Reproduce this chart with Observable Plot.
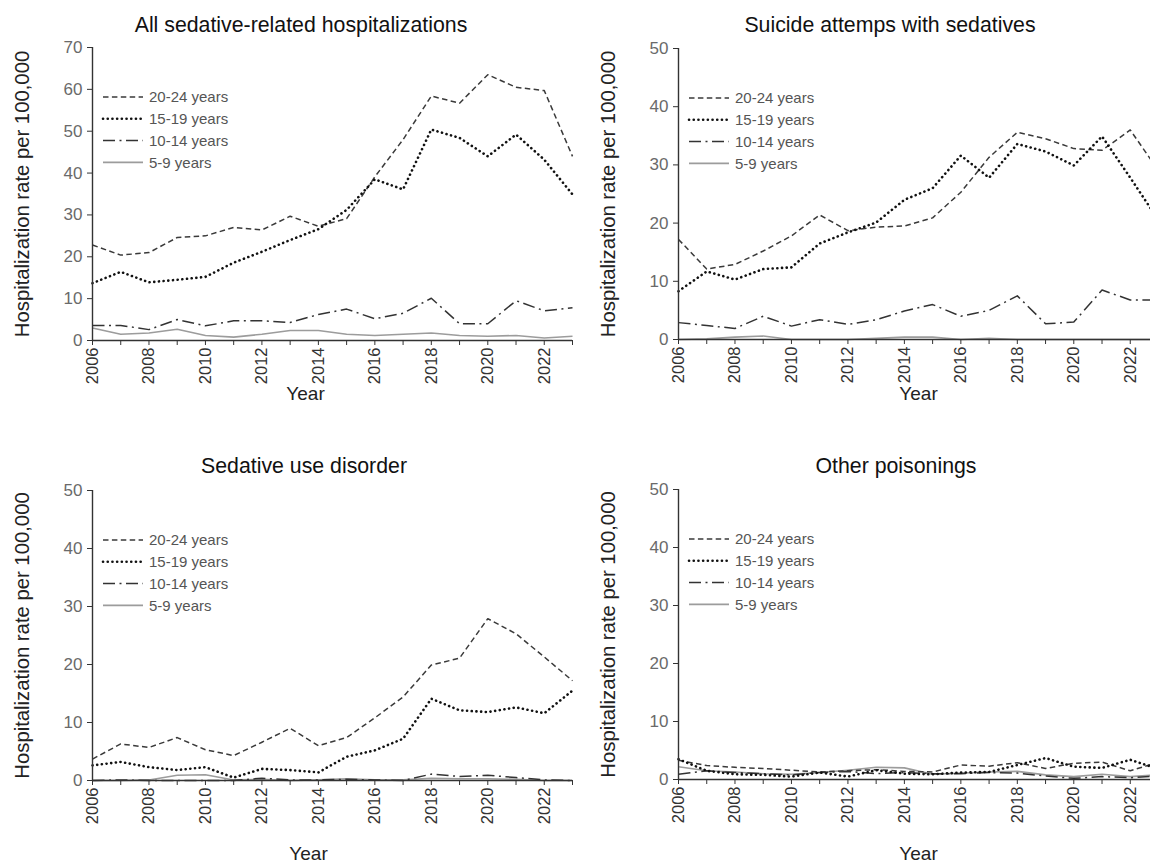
<!DOCTYPE html>
<html>
<head>
<meta charset="utf-8">
<script src="https://cdn.jsdelivr.net/npm/d3@7"></script>
<script src="https://cdn.jsdelivr.net/npm/@observablehq/plot@0.6"></script>
<style>
  body { margin: 0; background: #fff; overflow: hidden; font-family: "Liberation Sans", Arial, sans-serif; }
  #wrap { position: relative; width: 1150px; height: 865px; overflow: hidden; background: #fff; }
  .panel { position: absolute; }
  .title { position: absolute; font-size: 21.3px; color: #111; transform: translateX(-50%); white-space: nowrap; line-height: 24px; }
</style>
</head>
<body>
<div id="wrap"></div>
<script>
// ---------- data ----------
const years = [2006, 2007, 2008, 2009, 2010, 2011, 2012, 2013, 2014, 2015, 2016, 2017, 2018, 2019, 2020, 2021, 2022, 2023];
const yearTicks = [2006, 2007, 2008, 2009, 2010, 2011, 2012, 2013, 2014, 2015, 2016, 2017, 2018, 2019, 2020, 2021, 2022, 2023];
const ageGroups = ["20-24 years", "15-19 years", "10-14 years", "5-9 years"];
const panelTitles = ["All sedative-related hospitalizations", "Suicide attemps with sedatives", "Sedative use disorder", "Other poisonings"];
const yTicks70 = [0, 10, 20, 30, 40, 50, 60, 70];
const yTicks50 = [0, 10, 20, 30, 40, 50];
const yLabel = "Hospitalization rate per 100,000";
const xLabel = "Year";

// All sedative-related hospitalizations
const allSed_20_24 = [22.8, 20.4, 21.0, 24.6, 25.0, 27.0, 26.4, 29.7, 27.3, 29.1, 39.1, 48.0, 58.4, 56.7, 63.5, 60.5, 59.7, 44.0];
const allSed_15_19 = [13.7, 16.4, 13.9, 14.5, 15.2, 18.6, 21.2, 24.0, 26.6, 31.2, 38.5, 36.1, 50.4, 48.4, 44.0, 49.2, 43.2, 34.9];
const allSed_10_14 = [3.6, 3.6, 2.6, 5.0, 3.5, 4.7, 4.7, 4.3, 6.2, 7.5, 5.2, 6.5, 10.1, 4.0, 4.0, 9.5, 7.1, 7.8];
const allSed_5_9   = [3.0, 1.5, 1.8, 2.7, 1.2, 0.8, 1.5, 2.4, 2.4, 1.5, 1.2, 1.5, 1.8, 1.2, 1.0, 1.2, 0.6, 1.0];

// Suicide attempts with sedatives
const suicide_20_24 = [17.2, 12.1, 12.9, 15.2, 17.8, 21.4, 18.7, 19.3, 19.5, 20.9, 25.3, 31.3, 35.6, 34.5, 32.8, 32.5, 36.0, 29.0];
const suicide_15_19 = [8.3, 11.7, 10.3, 12.1, 12.4, 16.5, 18.4, 20.1, 24.0, 26.0, 31.6, 27.8, 33.6, 32.3, 29.9, 34.9, 27.8, 20.5];
const suicide_10_14 = [2.9, 2.4, 1.9, 4.0, 2.3, 3.4, 2.6, 3.4, 4.9, 6.0, 4.0, 5.0, 7.5, 2.7, 3.0, 8.5, 6.8, 6.8];
const suicide_5_9   = [0.0, 0.1, 0.4, 0.6, 0.0, 0.0, 0.0, 0.2, 0.4, 0.4, 0.0, 0.2, 0.0, 0.0, 0.0, 0.0, 0.0, 0.0];

// Sedative use disorder
const sud_20_24 = [3.7, 6.3, 5.7, 7.4, 5.3, 4.3, 6.6, 9.0, 6.0, 7.4, 10.8, 14.4, 19.9, 21.1, 27.9, 25.3, 21.3, 17.2];
const sud_15_19 = [2.6, 3.2, 2.3, 1.8, 2.3, 0.5, 2.0, 1.8, 1.4, 4.1, 5.2, 7.2, 14.1, 12.1, 11.8, 12.6, 11.6, 15.5];
const sud_10_14 = [0.0, 0.1, 0.0, 0.0, 0.0, 0.0, 0.4, 0.1, 0.1, 0.2, 0.1, 0.0, 1.1, 0.7, 0.9, 0.5, 0.1, 0.0];
const sud_5_9   = [0.0, 0.0, 0.1, 0.9, 1.0, 0.1, 0.2, 0.0, 0.1, 0.3, 0.1, 0.1, 0.4, 0.3, 0.3, 0.2, 0.0, 0.0];

// Other poisonings
const other_20_24 = [3.3, 2.4, 2.1, 1.9, 1.6, 1.3, 1.5, 1.7, 1.4, 1.3, 2.5, 2.3, 2.9, 1.9, 2.8, 3.0, 1.5, 3.0];
const other_15_19 = [3.5, 1.5, 0.9, 0.8, 0.5, 1.2, 0.5, 1.6, 1.0, 0.9, 1.2, 1.3, 2.5, 3.7, 2.2, 2.0, 3.4, 1.8];
const other_10_14 = [0.9, 1.5, 1.2, 1.0, 0.8, 1.2, 1.4, 1.0, 1.2, 1.0, 1.0, 1.2, 1.1, 0.6, 0.2, 0.5, 0.3, 0.6];
const other_5_9   = [2.2, 1.5, 1.3, 1.0, 0.9, 1.2, 1.6, 2.1, 2.0, 0.9, 1.1, 1.3, 1.4, 0.8, 0.5, 0.9, 0.5, 0.8];

// ---------- styles ----------
const lineStyles = [
  {stroke: "#3a3a3a", width: 1.5, dash: "5.5,3.4", cap: "butt"},
  {stroke: "#111111", width: 2.6, dash: "0.1,4.6", cap: "round"},
  {stroke: "#333333", width: 1.5, dash: "12,4.5,2,4.5", cap: "butt"},
  {stroke: "#9c9c9c", width: 1.6, dash: null, cap: "butt"}
];

const panels = [
  {series: [allSed_20_24, allSed_15_19, allSed_10_14, allSed_5_9], yMax: 70, yTicks: yTicks70,
   left: 0, top: 0, width: 575, height: 410, mL: 92, mT: 47, mR: 3, frameBottom: 340,
   yearDx: -27, yearDy: 53, titleX: 301, titleY: 13},
  {series: [suicide_20_24, suicide_15_19, suicide_10_14, suicide_5_9], yMax: 50, yTicks: yTicks50,
   left: 575, top: 0, width: 586, height: 410, mL: 103, mT: 48, mR: 3, frameBottom: 339,
   yearDx: 0, yearDy: 54, titleX: 890, titleY: 13},
  {series: [sud_20_24, sud_15_19, sud_10_14, sud_5_9], yMax: 50, yTicks: yTicks50,
   left: 0, top: 430, width: 575, height: 435, mL: 92, mT: 60, mR: 3, frameBottom: 350,
   yearDx: -24, yearDy: 73, titleX: 304, titleY: 454},
  {series: [other_20_24, other_15_19, other_10_14, other_5_9], yMax: 50, yTicks: yTicks50,
   left: 575, top: 430, width: 586, height: 435, mL: 103, mT: 59, mR: 3, frameBottom: 349,
   yearDx: 0, yearDy: 74, titleX: 896, titleY: 454}
];

const wrap = document.getElementById("wrap");

function legendMark(index, scales, values, dims) {
  const g = d3.create("svg:g");
  const x0 = dims.marginLeft, y0 = dims.marginTop + 50;
  lineStyles.forEach((s, i) => {
    const y = y0 + i * 21.8;
    const ln = g.append("line")
      .attr("x1", x0 + 11).attr("x2", x0 + 51).attr("y1", y).attr("y2", y)
      .attr("stroke", s.stroke).attr("stroke-width", s.width).attr("stroke-linecap", s.cap);
    if (s.dash) ln.attr("stroke-dasharray", s.dash);
    g.append("text").attr("x", x0 + 57).attr("y", y).attr("dy", "0.35em")
      .attr("text-anchor", "start")
      .attr("fill", "#555").attr("font-size", 15).text(ageGroups[i]);
  });
  return g.node();
}

panels.forEach((p, pi) => {
  const marks = [];
  [3, 2, 0, 1].forEach(gi => {
    const data = years.map((yr, k) => ({year: yr, value: p.series[gi][k], group: ageGroups[gi]}));
    const s = lineStyles[gi];
    marks.push(Plot.line(data, {
      x: "year", y: "value", stroke: s.stroke, strokeWidth: s.width,
      strokeDasharray: s.dash || undefined, strokeLinecap: s.cap, strokeLinejoin: "round"
    }));
  });
  marks.push(Plot.ruleY([0], {stroke: "#333", strokeWidth: 1.4}));
  marks.push(Plot.ruleX([2006], {stroke: "#333", strokeWidth: 1.4}));
  marks.push(Plot.axisX({
    ticks: yearTicks, tickFormat: d => (d % 2 === 0 ? String(d) : ""), tickRotate: -90,
    tickSize: 5, tickPadding: 2, fontSize: 16.5, fill: "#333", stroke: "#333", label: null
  }));
  marks.push(Plot.axisY({
    ticks: p.yTicks, tickSize: 5, tickPadding: 5, fontSize: 17, fill: "#6a6a6a", stroke: "#333", label: null
  }));
  marks.push(Plot.text([yLabel], {
    text: d => d, frameAnchor: "left", textAnchor: "middle", lineAnchor: "middle",
    rotate: -90, dx: -70, fontSize: 20.3, fill: "#222"
  }));
  marks.push(Plot.text([xLabel], {
    text: d => d, frameAnchor: "bottom", textAnchor: "middle", lineAnchor: "middle",
    dx: p.yearDx, dy: p.yearDy, fontSize: 19, fill: "#222"
  }));
  marks.push(legendMark);

  const chart = Plot.plot({
    width: p.width,
    height: p.height,
    marginLeft: p.mL,
    marginTop: p.mT,
    marginRight: p.mR,
    marginBottom: p.height - p.frameBottom,
    x: {domain: [2006, 2023], axis: null},
    y: {domain: [0, p.yMax], axis: null},
    style: {fontFamily: "'Liberation Sans', Arial, sans-serif", background: "transparent", overflow: "visible"},
    marks
  });
  chart.classList.add("panel");
  chart.style.left = p.left + "px";
  chart.style.top = p.top + "px";
  wrap.appendChild(chart);

  const t = document.createElement("div");
  t.className = "title";
  t.textContent = panelTitles[pi];
  t.style.left = p.titleX + "px";
  t.style.top = p.titleY + "px";
  wrap.appendChild(t);
});
</script>
</body>
</html>
